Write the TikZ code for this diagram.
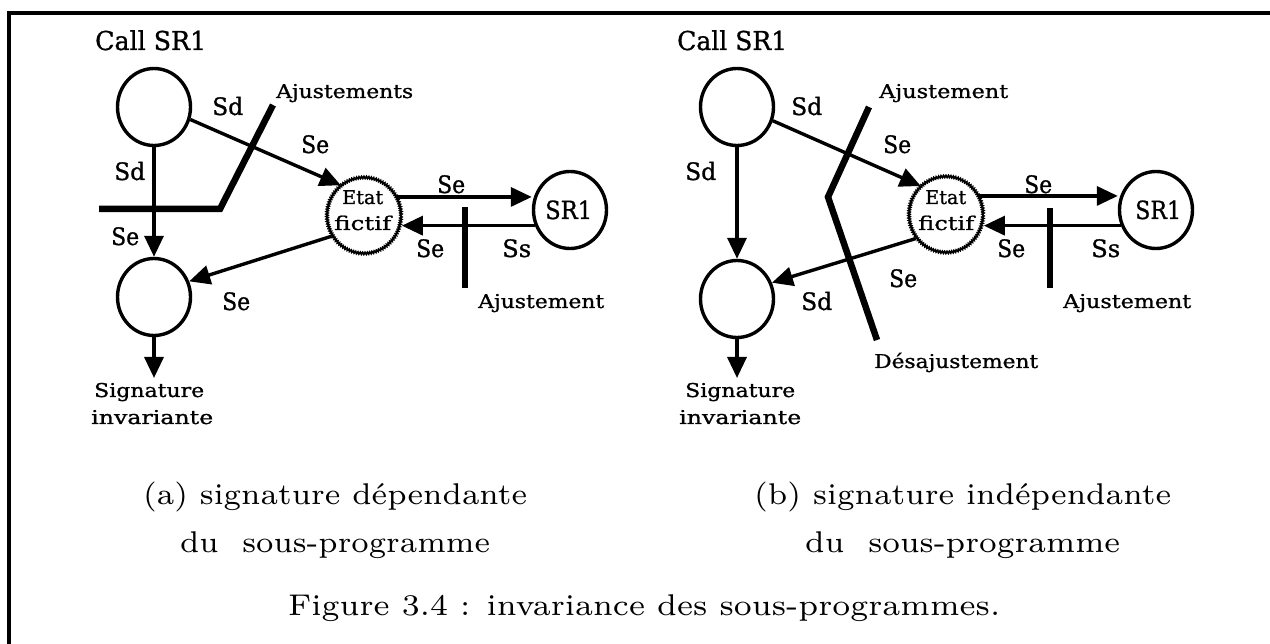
\documentclass[tikz,border=0pt]{standalone}
\usepackage{fontspec}
\usepackage{graphicx}
\usetikzlibrary{arrows.meta,shapes.geometric,decorations.pathmorphing}
\newfontfamily\lblfont[FakeBold=1]{DejaVu Serif}
\newfontfamily\capfont{lmroman7-regular.otf}
\newcommand\fitw[2]{\resizebox{#1pt}{\height}{#2}}
\begin{document}
\begin{tikzpicture}[x=1pt,y=-1pt,
  arr/.style={line width=3.4pt,-{Triangle[length=21pt,width=19pt]}},
  cutline/.style={line width=6.5pt},
  circ/.style={draw,ellipse,line width=3.4pt,inner sep=0pt,minimum width=73pt,minimum height=77pt},
  wavy/.style={draw,ellipse,inner sep=0pt,line width=1.7pt,minimum width=74pt,minimum height=76pt,
     decorate,decoration={snake,segment length=2.4pt,amplitude=1pt}},
  labtxt/.style={inner sep=0pt,anchor=base west,font=\lblfont\fontsize{24}{28}\selectfont},
  smalltxt/.style={inner sep=0pt,anchor=base west,font=\lblfont\fontsize{19}{22}\selectfont},
  bigtxt/.style={inner sep=0pt,anchor=base west,font=\lblfont\fontsize{26}{30}\selectfont},
  capttxt/.style={inner sep=0pt,anchor=base west,font=\capfont\fontsize{30}{34}\selectfont},
]
\useasboundingbox (0,0) rectangle (1270,644);
\clip (0,0) rectangle (1270,644);
% frame
\draw[line width=4pt] (9,700) -- (9,13) -- (1300,13);

% ================= panel (a) =================
\node[circ] (topA) at (154,107) {};
\node[circ] (botA) at (154,297) {};
\node[wavy] (etatA) at (364,216) {};
\node[circ] (srA) at (570,210) {};
\coordinate (endA) at (154,378);

\node[bigtxt] (callA) at (95,50) {\fitw{111}{Call SR1}};
\node[smalltxt] (ajA) at (276,98) {\fitw{137}{Ajustements}};
\node[smalltxt] (etA1) at (342,204) {\fitw{41}{Etat}};
\node[smalltxt] (etA2) at (334,230) {\fitw{57}{fictif}};
\node[labtxt,font=\lblfont\fontsize{25}{29}\selectfont] (srtA) at (545,219) {\fitw{47}{SR1}};

\node[labtxt] (sdA1) at (212,115) {\fitw{31}{Sd}};
\node[labtxt] (seA1) at (301,153) {\fitw{28}{Se}};
\node[labtxt] (sdA2) at (114,180) {\fitw{31}{Sd}};
\node[labtxt] (seA2) at (111,245) {\fitw{28}{Se}};
\node[labtxt] (seA3) at (437,193) {\fitw{28}{Se}};
\node[labtxt] (seA4) at (416,257) {\fitw{28}{Se}};
\node[labtxt] (ssA) at (502,257) {\fitw{29}{Ss}};
\node[labtxt] (seA5) at (222,310) {\fitw{28}{Se}};
\node[smalltxt] (ajA2) at (478,308) {\fitw{126}{Ajustement}};
\node[smalltxt] (sigA1) at (94,397) {\fitw{110}{Signature}};
\node[smalltxt] (sigA2) at (91,424) {\fitw{122}{invariante}};

\draw[arr] (topA.south) -- (botA.north);
\draw[arr] (topA.-19) -- (etatA.127);
\draw[arr] (etatA.212) -- (botA.24);
\draw[arr] (etatA.30) -- (etatA.30 -| srA.west);
\draw[arr] (srA.204) -- (srA.204 -| etatA.east);
\draw[arr] (botA.south) -- (endA);

\draw[cutline] (273,105) -- (220,209) -- (99,209);
\draw[cutline] (465,207) -- (465,288);

\node[capttxt] (captA1) at (143,504) {\fitw{384}{(a) signature dépendante}};
\node[capttxt] (captA2) at (180,552) {\fitw{310}{du~~sous-programme}};

% ================= panel (b) =================
\node[circ] (topB) at (737,107) {};
\node[circ] (botB) at (737,299) {};
\node[wavy] (etatB) at (946,215) {};
\node[circ] (srB) at (1156,210) {};
\coordinate (endB) at (737,378);

\node[bigtxt] (callB) at (677,50) {\fitw{110}{Call SR1}};
\node[smalltxt] (ajB) at (879,98) {\fitw{129}{Ajustement}};
\node[smalltxt] (etB1) at (925,204) {\fitw{41}{Etat}};
\node[smalltxt] (etB2) at (918,230) {\fitw{56}{fictif}};
\node[labtxt,font=\lblfont\fontsize{25}{29}\selectfont] (srtB) at (1135,219) {\fitw{46}{SR1}};

\node[labtxt] (sdB1) at (791,115) {\fitw{31}{Sd}};
\node[labtxt] (seB1) at (883,153) {\fitw{28}{Se}};
\node[labtxt] (sdB2) at (685,180) {\fitw{31}{Sd}};
\node[labtxt] (seB3) at (1024,193) {\fitw{28}{Se}};
\node[labtxt] (seB4) at (997,257) {\fitw{28}{Se}};
\node[labtxt] (ssB) at (1091,257) {\fitw{29}{Ss}};
\node[labtxt] (seB5) at (889,287) {\fitw{28}{Se}};
\node[labtxt] (sdB3) at (801,310) {\fitw{31}{Sd}};
\node[smalltxt] (ajB2) at (1063,308) {\fitw{128}{Ajustement}};
\node[smalltxt] (desB) at (874,368) {\fitw{164}{Désajustement}};
\node[smalltxt] (sigB1) at (685,397) {\fitw{110}{Signature}};
\node[smalltxt] (sigB2) at (679,424) {\fitw{122}{invariante}};

\draw[arr] (topB.south) -- (botB.north);
\draw[arr] (topB.-21) -- (etatB.131);
\draw[arr] (etatB.218) -- (botB.25);
\draw[arr] (etatB.30) -- (etatB.30 -| srB.west);
\draw[arr] (srB.204) -- (srB.204 -| etatB.east);
\draw[arr] (botB.south) -- (endB);

\draw[cutline] (869,107) -- (828,197) -- (877,340);
\draw[cutline] (1050,208) -- (1050,288);

\node[capttxt] (captB1) at (754,504) {\fitw{417}{(b) signature indépendante}};
\node[capttxt] (captB2) at (805,552) {\fitw{315}{du~~sous-programme}};

% caption
\node[capttxt] (fig) at (288,615) {\fitw{712}{Figure 3.4 : invariance des sous-programmes.}};
\end{tikzpicture}
\end{document}
